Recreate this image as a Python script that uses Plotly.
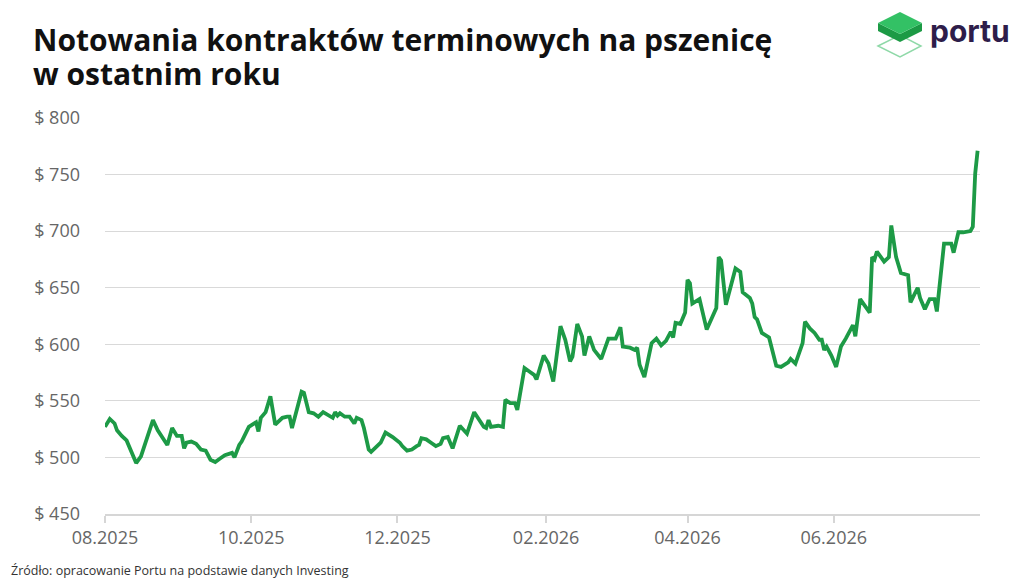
import plotly.graph_objects as go

# wheat futures (USD)
dates = [
    "2025-08-01", "2025-08-03", "2025-08-05", "2025-08-06", "2025-08-08", "2025-08-10",
    "2025-08-14", "2025-08-16", "2025-08-21", "2025-08-23", "2025-08-27", "2025-08-28",
    "2025-08-29", "2025-08-31", "2025-09-02", "2025-09-03", "2025-09-04", "2025-09-06",
    "2025-09-08", "2025-09-10", "2025-09-12", "2025-09-14", "2025-09-16", "2025-09-18",
    "2025-09-20", "2025-09-23", "2025-09-24", "2025-09-26", "2025-09-27", "2025-09-30",
    "2025-10-03", "2025-10-04", "2025-10-05", "2025-10-07", "2025-10-09", "2025-10-11",
    "2025-10-14", "2025-10-16", "2025-10-17", "2025-10-18", "2025-10-22", "2025-10-23",
    "2025-10-25", "2025-10-27", "2025-10-29", "2025-10-31", "2025-11-03", "2025-11-04",
    "2025-11-05", "2025-11-06", "2025-11-07", "2025-11-09", "2025-11-11", "2025-11-13",
    "2025-11-14", "2025-11-16", "2025-11-17", "2025-11-19", "2025-11-20", "2025-11-22",
    "2025-11-24", "2025-11-26", "2025-11-29", "2025-12-02", "2025-12-03", "2025-12-05",
    "2025-12-07", "2025-12-09", "2025-12-10", "2025-12-11", "2025-12-13", "2025-12-15",
    "2025-12-17", "2025-12-19", "2025-12-20", "2025-12-22", "2025-12-23", "2025-12-24",
    "2025-12-27", "2025-12-29", "2025-12-30", "2026-01-02", "2026-01-04", "2026-01-06",
    "2026-01-07", "2026-01-08", "2026-01-09", "2026-01-12", "2026-01-14", "2026-01-15",
    "2026-01-17", "2026-01-19", "2026-01-20", "2026-01-23", "2026-01-25", "2026-01-27",
    "2026-01-28", "2026-01-31", "2026-02-02", "2026-02-04", "2026-02-07", "2026-02-09",
    "2026-02-11", "2026-02-12", "2026-02-14", "2026-02-16", "2026-02-17", "2026-02-19",
    "2026-02-21", "2026-02-24", "2026-02-27", "2026-03-02", "2026-03-04", "2026-03-05",
    "2026-03-08", "2026-03-10", "2026-03-11", "2026-03-12", "2026-03-14", "2026-03-17",
    "2026-03-19", "2026-03-21", "2026-03-23", "2026-03-25", "2026-03-26", "2026-03-27",
    "2026-03-29", "2026-03-31", "2026-04-01", "2026-04-02", "2026-04-03", "2026-04-06",
    "2026-04-09", "2026-04-13", "2026-04-14", "2026-04-15", "2026-04-17", "2026-04-19",
    "2026-04-21", "2026-04-23", "2026-04-24", "2026-04-27", "2026-04-28", "2026-04-29",
    "2026-04-30", "2026-05-02", "2026-05-04", "2026-05-05", "2026-05-08", "2026-05-10",
    "2026-05-13", "2026-05-14", "2026-05-16", "2026-05-19", "2026-05-20", "2026-05-22",
    "2026-05-24", "2026-05-26", "2026-05-27", "2026-05-28", "2026-05-29", "2026-05-31",
    "2026-06-02", "2026-06-04", "2026-06-06", "2026-06-09", "2026-06-10", "2026-06-12",
    "2026-06-16", "2026-06-17", "2026-06-18", "2026-06-19", "2026-06-22", "2026-06-24",
    "2026-06-25", "2026-06-27", "2026-06-29", "2026-07-02", "2026-07-03", "2026-07-06",
    "2026-07-07", "2026-07-09", "2026-07-11", "2026-07-13", "2026-07-14", "2026-07-17",
    "2026-07-20", "2026-07-21", "2026-07-23", "2026-07-25", "2026-07-28", "2026-07-29",
    "2026-07-30", "2026-07-31",
]
prices = [
    527, 534, 530, 524, 519, 515,
    495, 501, 533, 524, 511, 518,
    526, 519, 519, 508, 513, 514,
    512, 507, 506, 498, 496, 499,
    502, 504, 500, 511, 514, 527,
    531, 523, 535, 540, 554, 529,
    535, 536, 536, 526, 558, 557,
    540, 539, 536, 540, 536, 535,
    540, 537, 539, 536, 536, 530,
    535, 533, 526, 507, 505, 509,
    513, 522, 518, 513, 510, 506,
    507, 510, 511, 517, 516, 513,
    510, 512, 517, 518, 513, 508,
    528, 523, 521, 540, 533, 527,
    526, 533, 527, 528, 527, 551,
    548, 548, 542, 579, 576, 573,
    569, 590, 583, 567, 616, 604,
    585, 589, 618, 607, 590, 607,
    595, 587, 605, 605, 615, 598,
    597, 595, 597, 582, 571, 601,
    605, 599, 603, 611, 606, 619,
    618, 628, 657, 654, 636, 640,
    613, 632, 677, 674, 635, 651,
    667, 664, 646, 641, 636, 624,
    622, 610, 607, 606, 581, 580,
    584, 587, 583, 601, 620, 614,
    610, 604, 604, 595, 598, 590,
    580, 598, 605, 617, 607, 640,
    628, 677, 675, 682, 673, 677,
    705, 677, 663, 661, 637, 650,
    641, 631, 640, 640, 629, 689,
    689, 681, 699, 699, 700, 704,
    751, 771,
]

tick_dates = ["2025-08-01", "2025-10-01", "2025-12-01", "2026-02-01", "2026-04-01", "2026-06-01"]
tick_labels = ["08.2025", "10.2025", "12.2025", "02.2026", "04.2026", "06.2026"]

# page body has an 8px margin, so the figure is drawn 8px smaller
OFF = 8
W, H = 1024 - OFF, 584 - OFF
L, R, T, B = 105 - OFF, 44, 118 - OFF, 70


def px(x):
    return (x - OFF - L) / (W - L - R)


def py(y):
    return (H - B - (y - OFF)) / (H - T - B)


fig = go.Figure(go.Scatter(x=dates, y=prices, mode="lines",
                           line=dict(color="#1d9a46", width=3.8),
                           hoverinfo="x+y"))

fig.update_layout(
    width=W, height=H,
    margin=dict(l=L, r=R, t=T, b=B),
    paper_bgcolor="white", plot_bgcolor="white",
    showlegend=False,
    font=dict(family="Open Sans", color="#666666"),
    xaxis=dict(type="date", range=["2025-08-01", "2026-08-01"],
               tickvals=tick_dates, ticktext=tick_labels,
               showgrid=False, zeroline=False,
               showline=True, linecolor="#d6d6d6", linewidth=1.5,
               ticks="outside", ticklen=7, tickcolor="#d6d6d6", tickwidth=1.5,
               tickfont=dict(size=18, color="#666666")),
    yaxis=dict(range=[450, 800], dtick=50, tickprefix="$ ",
               showgrid=True, gridcolor="#d9d9d9", gridwidth=1.2,
               zeroline=False, ticklabelstandoff=24,
               tickfont=dict(size=18, color="#666666")),
)

# title, two lines set separately for tighter leading
fig.add_annotation(xref="paper", yref="paper", x=px(31), y=py(39),
                   xanchor="left", yanchor="middle", showarrow=False,
                   text="<b>Notowania kontraktów terminowych na pszenicę</b>",
                   font=dict(family="Open Sans", size=30, color="#111111"))
fig.add_annotation(xref="paper", yref="paper", x=px(31), y=py(73),
                   xanchor="left", yanchor="middle", showarrow=False,
                   text="<b>w ostatnim roku</b>",
                   font=dict(family="Open Sans", size=30, color="#111111"))

# source
fig.add_annotation(xref="paper", yref="paper", x=px(9), y=py(570),
                   xanchor="left", yanchor="middle", showarrow=False,
                   text="Źródło: opracowanie Portu na podstawie danych Investing",
                   font=dict(family="Open Sans", size=12.5, color="#333333"))

# portu logo: outline diamond, cube sides, top face
fig.add_shape(type="path", xref="paper", yref="paper",
              path=f"M {px(878)} {py(46)} L {px(900)} {py(35)} L {px(921)} {py(46)} L {px(900)} {py(57)} Z",
              line=dict(color="#8fd9a8", width=1.5), fillcolor="rgba(0,0,0,0)")
fig.add_shape(type="path", xref="paper", yref="paper",
              path=f"M {px(878)} {py(23)} L {px(900)} {py(34)} L {px(922)} {py(23)} "
                   f"L {px(922)} {py(31)} L {px(900)} {py(42)} L {px(878)} {py(31)} Z",
              line=dict(width=0), fillcolor="#1c9a45")
fig.add_shape(type="path", xref="paper", yref="paper",
              path=f"M {px(878)} {py(23)} L {px(900)} {py(12)} L {px(922)} {py(23)} L {px(900)} {py(34)} Z",
              line=dict(width=0), fillcolor="#33c165")
fig.add_annotation(xref="paper", yref="paper", x=px(928), y=py(31),
                   xanchor="left", yanchor="middle", showarrow=False,
                   text="<b>portu</b>",
                   font=dict(family="Inter", size=30, color="#2e1d4a"))

fig.write_html("out.html")
